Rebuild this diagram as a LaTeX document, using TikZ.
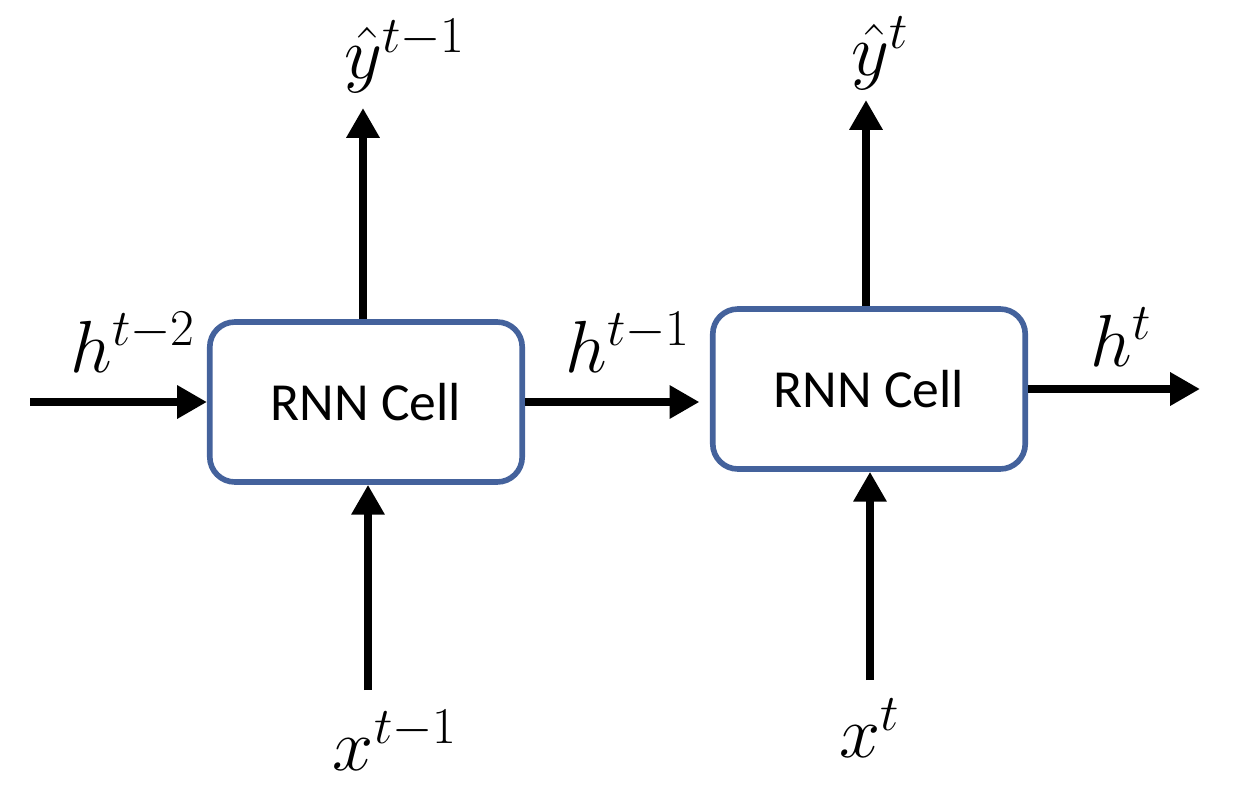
\RequirePackage{fix-cm}
\documentclass[tikz,border=0pt]{standalone}
\usepackage{fontspec}
\usetikzlibrary{arrows.meta}
\newfontfamily\celdafont{Carlito}
\definecolor{bordeazul}{RGB}{68,98,156}

\tikzset{
  celda/.style={draw=bordeazul, line width=3.2pt, rounded corners=0.5cm,
    fill=white, minimum width=6.25cm, minimum height=3.2cm,
    font=\celdafont\fontsize{30.5}{36}\selectfont},
  flecha/.style={line width=4.5pt, -{Triangle[length=17pt,width=18pt]}},
  etiqueta/.style={inner sep=0pt, font=\fontsize{42}{50}\selectfont}
}

\begin{document}
\begin{tikzpicture}[x=0.02cm,y=-0.02cm]

      % Marco de la figura
      \useasboundingbox (0,0) rectangle (1234,798);

      % Celdas
      \node[celda] (cell1) at (366,402) {RNN Cell};
      \node[celda] (cell2) at (869,389) {RNN Cell};

      % Puntos libres de las flechas
      \coordinate (hin) at (30,402);
      \coordinate (hout) at (1200,389);
      \coordinate (yup1) at (363,108);
      \coordinate (yup2) at (866,100);
      \coordinate (xin1) at (368,690);
      \coordinate (xin2) at (870,680);

      % Flechas horizontales
      \draw[flecha] (hin) -- (cell1.west);
      \draw[flecha, shorten >=6pt] (cell1.east) -- (cell1.east -| cell2.west);
      \draw[flecha] (cell2.east) -- (hout);

      % Flechas verticales
      \draw[flecha] (cell1.north -| yup1) -- (yup1);
      \draw[flecha] (cell2.north -| yup2) -- (yup2);
      \draw[flecha] (xin1) -- (xin1 |- cell1.south);
      \draw[flecha] (xin2) -- (xin2 |- cell2.south);

      % Etiquetas
      \node[etiqueta] (yhat1) at (405,56) {$\hat{y}^{t-1}$};
      \node[etiqueta] (yhat2) at (880,53) {$\hat{y}^{t}$};
      \node[etiqueta] (h2) at (133,342) {$h^{t-2}$};
      \node[etiqueta] (h1) at (628,342) {$h^{t-1}$};
      \node[etiqueta] (h0) at (1121,337) {$h^{t}$};
      \node[etiqueta] (x1) at (395,740) {$x^{t-1}$};
      \node[etiqueta] (x0) at (870,728) {$x^{t}$};

    \end{tikzpicture}
\end{document}
